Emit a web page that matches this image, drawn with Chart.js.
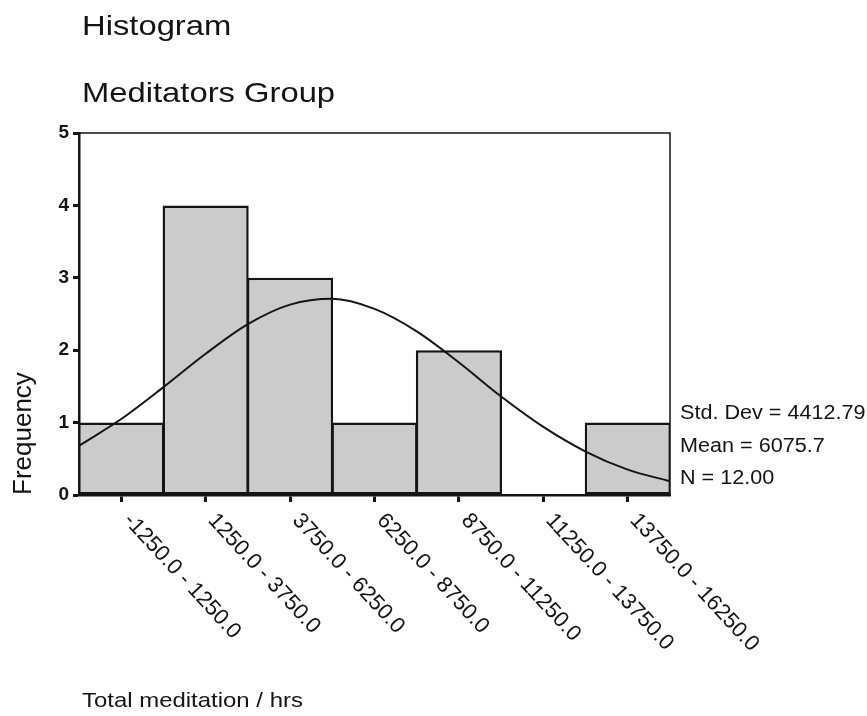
<!DOCTYPE html>
<html>
<head>
<meta charset="utf-8">
<script src="https://cdn.jsdelivr.net/npm/chart.js@4.4.1/dist/chart.umd.min.js"></script>
<style>
  html, body { margin: 0; padding: 0; background: #ffffff; }
  #wrap { position: relative; width: 867px; height: 716px; }
</style>
</head>
<body>
<div id="wrap"><canvas id="c" width="867" height="716"></canvas></div>
<script>
// ---- data ----
const binLabels = ['-1250.0 - 1250.0', '1250.0 - 3750.0', '3750.0 - 6250.0', '6250.0 - 8750.0',
                   '8750.0 - 11250.0', '11250.0 - 13750.0', '13750.0 - 16250.0'];
const binCenters = [0, 2500, 5000, 7500, 10000, 12500, 15000];
const frequencies = [1, 4, 3, 1, 2, 0, 1];
// normal curve overlay (hours -> frequency)
const curveHours = [-1250, 0, 1250, 2500, 3750, 5000, 6250, 7500, 8750, 10000, 11250, 12500, 13750, 15000, 16250];
const curveFreq  = [0.68, 1.05, 1.49, 1.95, 2.36, 2.63, 2.71, 2.57, 2.26, 1.83, 1.36, 0.94, 0.60, 0.35, 0.19];
const xRange = [-1250, 16250];
const yTicks = [0, 1, 2, 3, 4, 5];
const titleLines = ['Histogram', 'Meditators Group'];
const statLines = ['Std. Dev = 4412.79', 'Mean = 6075.7', 'N = 12.00'];
const xAxisTitle = 'Total meditation / hrs';
const yAxisTitle = 'Frequency';

const FONT = "'Liberation Sans', Arial, Helvetica, sans-serif";
const INK = '#141414';

function stretchedText(ctx, txt, x, y, font, sx) {
  ctx.save();
  ctx.translate(x, y);
  ctx.scale(sx, 1);
  ctx.font = font;
  ctx.fillStyle = INK;
  ctx.textAlign = 'left';
  ctx.textBaseline = 'alphabetic';
  ctx.fillText(txt, 0, 0);
  ctx.restore();
}

const decor = {
  id: 'decor',
  afterDraw(chart) {
    const ctx = chart.ctx;
    const a = chart.chartArea;
    // frame
    ctx.save();
    ctx.strokeStyle = INK;
    ctx.lineWidth = 1.5;
    ctx.strokeRect(a.left, a.top, a.right - a.left, a.bottom - a.top);
    ctx.restore();
    // rotated bin labels (clockwise, starting at the tick)
    const xs = chart.scales.x;
    binLabels.forEach((lab, i) => {
      const px = xs.getPixelForValue(binCenters[i]);
      ctx.save();
      ctx.translate(px + 6, a.bottom + 22);
      ctx.rotate(Math.PI / 4 + 0.04);
      ctx.font = '22px ' + FONT;
      ctx.fillStyle = INK;
      ctx.textAlign = 'left';
      ctx.textBaseline = 'middle';
      ctx.fillText(lab, 0, 0);
      ctx.restore();
    });
    // titles
    stretchedText(ctx, titleLines[0], 82, 35, '28px ' + FONT, 1.17);
    stretchedText(ctx, titleLines[1], 82, 102, '28px ' + FONT, 1.17);
    // stats
    const sy = [419, 452, 484];
    statLines.forEach((s, i) => stretchedText(ctx, s, 680, sy[i], '20px ' + FONT, 1.08));
    // x title
    stretchedText(ctx, xAxisTitle, 82, 707, '21px ' + FONT, 1.14);
  }
};

new Chart(document.getElementById('c'), {
  type: 'bar',
  data: {
    datasets: [
      {
        type: 'line',
        data: curveHours.map((h, i) => ({ x: h, y: curveFreq[i] })),
        borderColor: INK,
        borderWidth: 2,
        pointRadius: 0,
        tension: 0.4,
        cubicInterpolationMode: 'monotone',
        fill: false,
        order: 0
      },
      {
        type: 'bar',
        data: binCenters.map((c, i) => ({ x: c, y: frequencies[i] })),
        backgroundColor: '#cbcbcb',
        borderColor: INK,
        borderWidth: 2.5,
        borderSkipped: false,
        barPercentage: 1.02,
        categoryPercentage: 1,
        order: 1
      }
    ]
  },
  options: {
    responsive: false,
    animation: false,
    layout: { padding: { top: 133, right: 197, left: 0, bottom: 0 } },
    plugins: { legend: { display: false }, tooltip: { enabled: false }, title: { display: false } },
    scales: {
      x: {
        type: 'linear',
        min: xRange[0],
        max: xRange[1],
        offset: false,
        afterFit: s => { s.height = 221; },
        afterBuildTicks: s => { s.ticks = binCenters.map(v => ({ value: v })); },
        grid: { offset: false, drawOnChartArea: false, drawTicks: true, tickLength: 7, tickWidth: 3, tickColor: INK },
        border: { display: true, color: INK, width: 2.5 },
        ticks: { display: false }
      },
      y: {
        min: 0,
        max: 5,
        afterFit: s => { s.width = 79; },
        afterBuildTicks: s => { s.ticks = yTicks.map(v => ({ value: v })); },
        grid: { drawOnChartArea: false, drawTicks: true, tickLength: 6, tickWidth: 3, tickColor: INK },
        border: { display: true, color: INK, width: 2.5 },
        ticks: { color: INK, font: { family: FONT, size: 19, weight: 'bold' }, padding: 4 },
        title: { display: true, text: yAxisTitle, align: 'start', color: INK,
                 font: { family: FONT, size: 26 }, padding: { top: 8, bottom: 0 } }
      }
    }
  },
  plugins: [decor]
});
</script>
</body>
</html>
